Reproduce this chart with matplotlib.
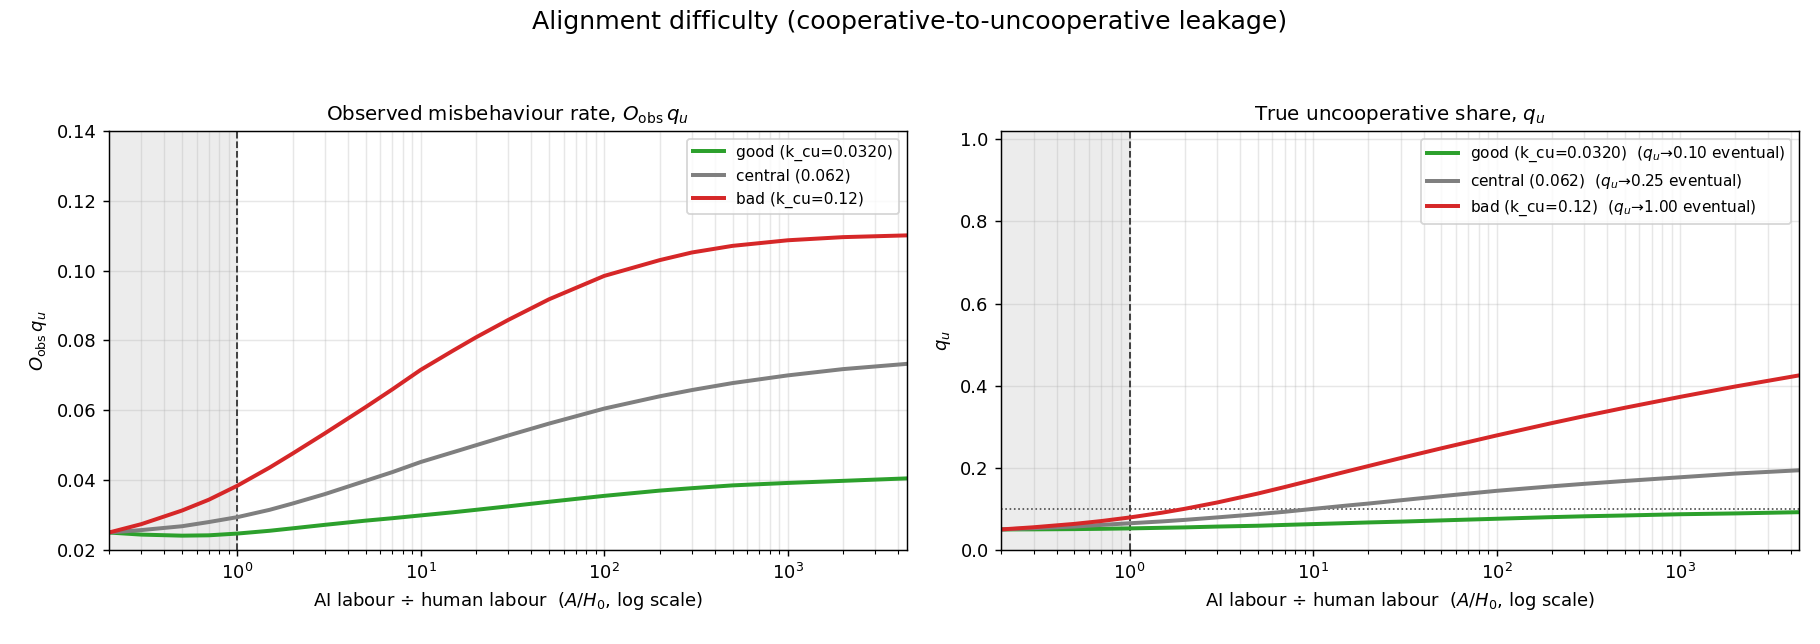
import numpy as np
import matplotlib
matplotlib.use("Agg")
import matplotlib.pyplot as plt

# A/H0 sample points
ratio = [0.2, 0.3, 0.5, 0.7, 1, 1.5, 2, 3, 5, 7, 10, 15, 20, 30, 50, 100,
         200, 300, 500, 1000, 2000, 4450]

# observed misbehaviour rate O_obs * q_u
obs_good = [0.0250, 0.0244, 0.0241, 0.0242, 0.0247, 0.0255, 0.0262, 0.0272,
            0.0284, 0.0291, 0.0299, 0.0308, 0.0315, 0.0325, 0.0338, 0.0355,
            0.0370, 0.0377, 0.0385, 0.0392, 0.0398, 0.0405]
obs_central = [0.0250, 0.0257, 0.0268, 0.0280, 0.0294, 0.0315, 0.0333, 0.0360,
               0.0398, 0.0423, 0.0452, 0.0480, 0.0500, 0.0528, 0.0562, 0.0605,
               0.0640, 0.0658, 0.0678, 0.0700, 0.0718, 0.0733]
obs_bad = [0.0250, 0.0274, 0.0313, 0.0344, 0.0384, 0.0436, 0.0476, 0.0534,
           0.0609, 0.0660, 0.0716, 0.0771, 0.0809, 0.0859, 0.0918, 0.0985,
           0.1030, 0.1052, 0.1071, 0.1087, 0.1096, 0.1101]

# true uncooperative share q_u
qu_good = [0.050, 0.0502, 0.0508, 0.0515, 0.0525, 0.054, 0.055, 0.057, 0.059,
           0.061, 0.063, 0.0653, 0.067, 0.069, 0.072, 0.076, 0.080, 0.082,
           0.084, 0.087, 0.089, 0.092]
qu_central = [0.050, 0.053, 0.057, 0.061, 0.065, 0.0695, 0.0733, 0.0793,
              0.0872, 0.093, 0.100, 0.1078, 0.113, 0.121, 0.131, 0.144, 0.155,
              0.161, 0.168, 0.177, 0.186, 0.194]
qu_bad = [0.050, 0.0553, 0.0635, 0.0704, 0.0791, 0.0907, 0.1003, 0.1156,
          0.1374, 0.1532, 0.1706, 0.1904, 0.2043, 0.2237, 0.2475, 0.2788,
          0.3089, 0.3258, 0.3462, 0.3727, 0.398, 0.425]

SCENARIOS = ["good", "central", "bad"]
COLOURS = {"good": "#2ca02c", "central": "#7f7f7f", "bad": "#d62728"}
LABELS = {"good": "good (k_cu=0.0320)", "central": "central (0.062)",
          "bad": "bad (k_cu=0.12)"}
EVENTUAL = {"good": 0.10, "central": 0.25, "bad": 1.00}
X_MIN, X_MAX = 0.2, 4450

obs = {"good": obs_good, "central": obs_central, "bad": obs_bad}
qu = {"good": qu_good, "central": qu_central, "bad": qu_bad}

fig, (axL, axR) = plt.subplots(1, 2, figsize=(14, 644 / 130), dpi=130)
fig.subplots_adjust(left=0.0599, right=0.9885, bottom=0.146, top=0.7966,
                    wspace=0.1186)

xlabel = "AI labour \u00f7 human labour  ($A/H_0$, log scale)"

for ax in (axL, axR):
    ax.axvspan(X_MIN, 1, color="grey", alpha=0.15, lw=0)
    ax.axvline(1, color="#333333", ls="--", lw=1.0)
    ax.set_xscale("log")
    ax.set_xlim(X_MIN, X_MAX)
    ax.grid(True, which="both", alpha=0.3)
    ax.set_xlabel(xlabel)

# --- Left: observed rate ---
for s in SCENARIOS:
    axL.plot(ratio, obs[s], color=COLOURS[s], lw=2.2, label=LABELS[s])
axL.set_ylim(0.02, 0.14)
axL.set_yticks(np.arange(0.02, 0.141, 0.02))
axL.set_ylabel(r"$O_{\rm obs}\,q_u$")
axL.set_title(r"Observed misbehaviour rate, $O_{\rm obs}\,q_u$", fontsize=11)
axL.legend(fontsize=8.5, loc="upper right")

# --- Right: true share ---
axR.axhline(0.10, color="#444444", ls=":", lw=0.9)
for s in SCENARIOS:
    axR.plot(ratio, qu[s], color=COLOURS[s], lw=2.2,
             label=f"{LABELS[s]}  ($q_u$\u2192{EVENTUAL[s]:.2f} eventual)")
axR.set_ylim(0, 1.02)
axR.set_yticks(np.arange(0, 1.01, 0.2))
axR.set_ylabel(r"$q_u$")
axR.set_title(r"True uncooperative share, $q_u$", fontsize=11)
axR.legend(fontsize=8.5, loc="upper right")

fig.suptitle("Alignment difficulty (cooperative-to-uncooperative leakage)",
             fontsize=14, y=0.985)
fig.savefig("out.png", dpi=130)
